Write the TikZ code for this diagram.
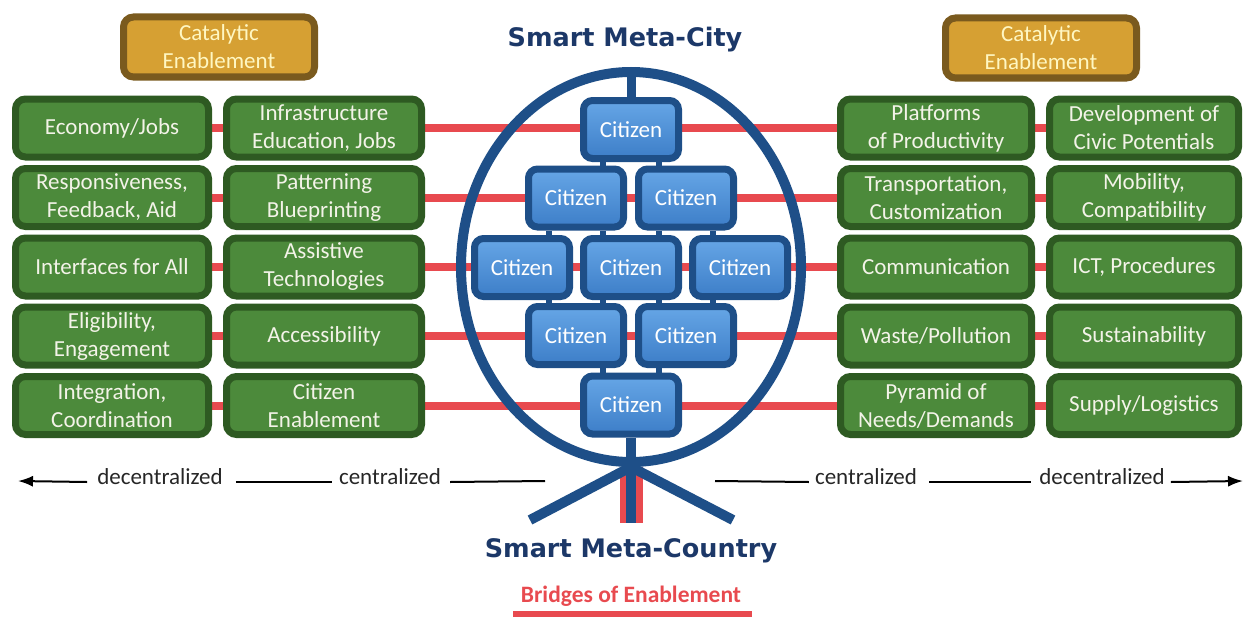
\documentclass[tikz,border=0pt]{standalone}
\usepackage{fontspec}
\setmainfont{Carlito}
\newfontfamily\titlefont{DejaVu Sans}
\usetikzlibrary{arrows.meta,shapes.geometric,calc}
\definecolor{gdark}{HTML}{2E5A22}
\definecolor{gfill}{HTML}{4C8A3B}
\definecolor{gtext}{HTML}{F3F3E8}
\definecolor{odark}{HTML}{7A5A1E}
\definecolor{ofill}{HTML}{D6A033}
\definecolor{otext}{HTML}{FFF7C2}
\definecolor{bdark}{HTML}{1E4F88}
\definecolor{btop}{HTML}{66A6E6}
\definecolor{bbot}{HTML}{3D7EC8}
\definecolor{redc}{HTML}{E84A4F}
\definecolor{navy}{HTML}{1C3868}
\definecolor{axisgray}{HTML}{262626}
\newcommand\bxfont{\fontsize{23}{28}\selectfont}
\pgfdeclarelayer{back}
\pgfdeclarelayer{mid}
\pgfsetlayers{back,mid,main}
\tikzset{
 gbox/.style={draw=gdark,line width=7pt,fill=gfill,rounded corners=10pt,minimum height=58pt,inner sep=0pt,align=center,text=gtext,font=\bxfont},
 cbox/.style={draw=odark,line width=7pt,fill=ofill,rounded corners=10pt,minimum width=191pt,minimum height=60pt,inner sep=0pt,align=center,text=otext,font=\bxfont},
 citz/.style={draw=bdark,line width=7pt,top color=btop,bottom color=bbot,rounded corners=9pt,minimum width=95pt,minimum height=58pt,inner sep=0pt,text=white,font=\bxfont},
 redline/.style={draw=redc,line width=8pt},
 ring/.style={draw=bdark,line width=10pt},
 stub/.style={draw=bdark,line width=6pt},
 lbl/.style={font=\bxfont,inner sep=0pt,anchor=mid,text=axisgray},
 axisline/.style={draw=black,line width=2pt},
 tip/.style={-{Latex[length=15pt,width=11pt]}},
}
\begin{document}
\begin{tikzpicture}[x=1pt,y=-1pt]
\useasboundingbox (0,0) rectangle (1250,618);

% catalytic boxes
\node[cbox] (catL) at (219,47) {Catalytic\\Enablement};
\node[cbox] (catR) at (1041,48) {Catalytic\\Enablement};

% titles
\node[font=\titlefont\bfseries\fontsize{25.5}{30}\selectfont,text=navy,anchor=base,inner sep=0pt] (city t) at (625,47) {Smart Meta-City};
\node[font=\titlefont\bfseries\fontsize{25.5}{30}\selectfont,text=navy,anchor=base,inner sep=0pt] (country t) at (631,557) {Smart Meta-Country};
\node[font=\bfseries\fontsize{23.5}{28}\selectfont,text=redc,anchor=base,inner sep=0pt] (bridges) at (631,602) {Bridges of Enablement};
\coordinate (ulA) at (513,614);
\coordinate (ulB) at (752,614);
\draw[draw=redc,line width=6pt] (ulA) -- (ulB);

% left columns
\node[gbox,minimum width=193pt] (a1) at (112,128) {Economy/Jobs};
\node[gbox,minimum width=193pt] (a2) at (112,197.5) {Responsiveness,\\Feedback, Aid};
\node[gbox,minimum width=193pt] (a3) at (112,267) {Interfaces for All};
\node[gbox,minimum width=193pt] (a4) at (112,336) {Eligibility,\\Engagement};
\node[gbox,minimum width=193pt] (a5) at (112,405.5) {Integration,\\Coordination};

\node[gbox,minimum width=195pt] (b1) at (324,128) {Infrastructure\\Education, Jobs};
\node[gbox,minimum width=195pt] (b2) at (324,197.5) {Patterning\\Blueprinting};
\node[gbox,minimum width=195pt] (b3) at (324,267) {Assistive\\Technologies};
\node[gbox,minimum width=195pt] (b4) at (324,336) {Accessibility};
\node[gbox,minimum width=195pt] (b5) at (324,405.5) {Citizen\\Enablement};

% right columns
\node[gbox,minimum width=191pt] (c1r) at (936,128) {Platforms\\of Productivity};
\node[gbox,minimum width=191pt] (c2r) at (936,197.5) {Transportation,\\Customization};
\node[gbox,minimum width=191pt] (c3r) at (936,267) {Communication};
\node[gbox,minimum width=191pt] (c4r) at (936,336) {Waste/Pollution};
\node[gbox,minimum width=191pt] (c5r) at (936,405.5) {Pyramid of\\Needs/Demands};

\node[gbox,minimum width=189pt] (d1) at (1144,128) {Development of\\Civic Potentials};
\node[gbox,minimum width=189pt] (d2) at (1144,197.5) {Mobility,\\Compatibility};
\node[gbox,minimum width=189pt] (d3) at (1144,267) {ICT, Procedures};
\node[gbox,minimum width=189pt] (d4) at (1144,336) {Sustainability};
\node[gbox,minimum width=189pt] (d5) at (1144,405.5) {Supply/Logistics};

% citizens
\node[citz] (p1) at (631,129.5) {Citizen};
\node[citz] (p2) at (576,198) {Citizen};
\node[citz] (p3) at (686,198) {Citizen};
\node[citz] (p4) at (522,267.5) {Citizen};
\node[citz] (p5) at (631,267.5) {Citizen};
\node[citz] (p6) at (740,267.5) {Citizen};
\node[citz] (p7) at (576,335.5) {Citizen};
\node[citz] (p8) at (686,335.5) {Citizen};
\node[citz] (p9) at (631,405) {Citizen};

% ring, stems, legs
\begin{pgfonlayer}{mid}
\node[ring,ellipse,minimum width=340pt,minimum height=390pt,inner sep=0pt] (ring) at (631,267) {};
\draw[ring,line width=9pt] (ring.north) -- (p1.north);
\coordinate (stemend) at (631,523);
\coordinate (legL) at (530,520);
\coordinate (legR) at (733,520);
\draw[ring] (p9.south) -- (stemend);
\draw[ring] (ring.south) -- (legL);
\draw[ring] (ring.south) -- (legR);
% pyramid links
\draw[stub] ([xshift=-28pt]p1.south) -- ([xshift=-28pt]p1.south |- p2.north);
\draw[stub] ([xshift=28pt]p1.south) -- ([xshift=28pt]p1.south |- p3.north);
\draw[stub] ([xshift=-27pt]p2.south) -- ([xshift=-27pt]p2.south |- p4.north);
\draw[stub] ([xshift=27pt]p2.south) -- ([xshift=27pt]p2.south |- p5.north);
\draw[stub] ([xshift=-27pt]p3.south) -- ([xshift=-27pt]p3.south |- p5.north);
\draw[stub] ([xshift=27pt]p3.south) -- ([xshift=27pt]p3.south |- p6.north);
\draw[stub] ([xshift=27pt]p4.south) -- ([xshift=27pt]p4.south |- p7.north);
\draw[stub] ([xshift=-28pt]p5.south) -- ([xshift=-28pt]p5.south |- p7.north);
\draw[stub] ([xshift=28pt]p5.south) -- ([xshift=28pt]p5.south |- p8.north);
\draw[stub] ([xshift=-27pt]p6.south) -- ([xshift=-27pt]p6.south |- p8.north);
\draw[stub] ([xshift=27pt]p7.south) -- ([xshift=27pt]p7.south |- p9.north);
\draw[stub] ([xshift=-27pt]p8.south) -- ([xshift=-27pt]p8.south |- p9.north);
\end{pgfonlayer}

% red bridges
\begin{pgfonlayer}{back}
\draw[redline] (a1) -- (d1);
\draw[redline] (a2) -- (d2);
\draw[redline] (a3) -- (d3);
\draw[redline] (a4) -- (d4);
\draw[redline] (a5) -- (d5);
\coordinate (bandtop) at (631,467);
\draw[draw=redc,line width=23pt] (bandtop) -- (stemend);
\end{pgfonlayer}

% axis labels
\node[lbl] (decL) at (160,482) {decentralized};
\node[lbl] (cenL) at (390,482) {centralized};
\node[lbl] (cenR) at (866,482) {centralized};
\node[lbl] (decR) at (1102,482) {decentralized};
\coordinate (arrL) at (18,481);
\coordinate (endL) at (545,481);
\coordinate (endR) at (715,481);
\coordinate (arrR) at (1243,481);
\draw[axisline,tip] ([xshift=-10pt]decL.mid west) -- (arrL);
\draw[axisline] ([xshift=13pt]decL.mid east) -- ([xshift=-7pt]cenL.mid west);
\draw[axisline] ([xshift=9pt]cenL.mid east) -- (endL);
\draw[axisline] (endR) -- ([xshift=-6pt]cenR.mid west);
\draw[axisline] ([xshift=12pt]cenR.mid east) -- ([xshift=-8pt]decR.mid west);
\draw[axisline,tip] ([xshift=6pt]decR.mid east) -- (arrR);
\end{tikzpicture}
\end{document}
